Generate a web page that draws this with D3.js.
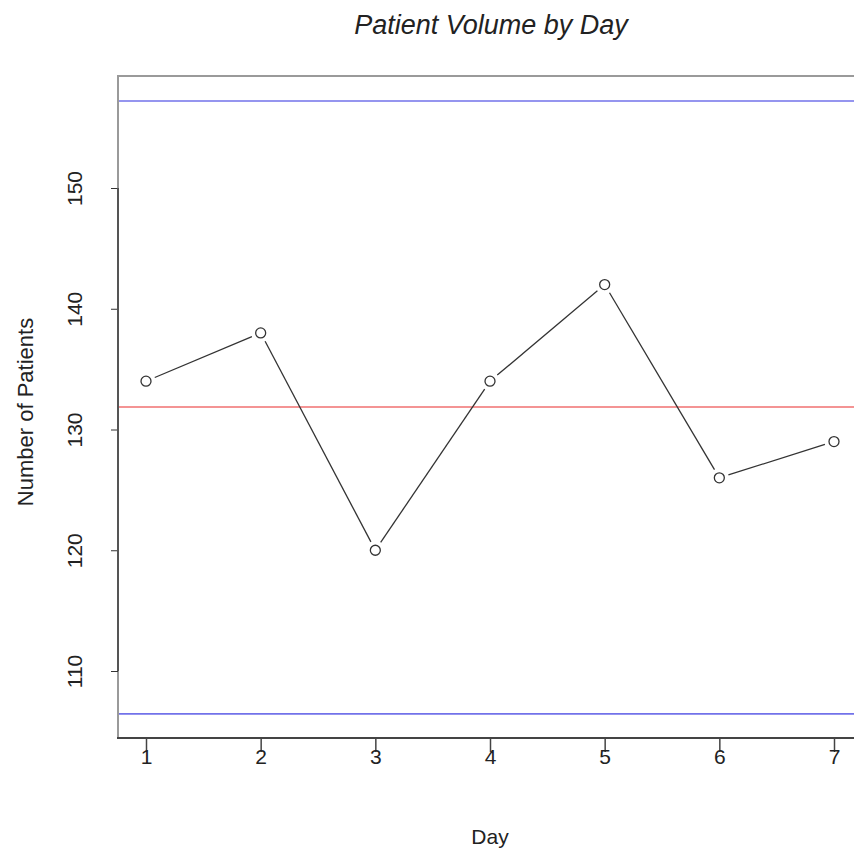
<!DOCTYPE html>
<html>
<head>
<meta charset="utf-8">
<script src="https://cdn.jsdelivr.net/npm/d3@7"></script>
<style>
  body { margin: 0; background: #fff; }
  svg { display: block; font-family: "Liberation Sans", Arial, sans-serif; }
</style>
</head>
<body>
<div id="chart"></div>
<script>
// data
var days = [1, 2, 3, 4, 5, 6, 7];
var patients = [134, 138, 120, 134, 142, 126, 129];
var centerLine = 131.86;
var upperLimit = 157.2;
var lowerLimit = 106.45;
var yTicks = [110, 120, 130, 140, 150];

var width = 854, height = 856;
var plot = {left: 118, right: 870, top: 76, bottom: 738};

var svg = d3.select("#chart").append("svg")
    .attr("width", width)
    .attr("height", height);

var x = d3.scaleLinear()
    .domain([1, 7])
    .range([146, 834]);
var y = d3.scaleLinear()
    .domain([110, 150])
    .range([671, 188]);

// frame (gray) around the plot region
svg.append("path")
    .attr("d", "M" + plot.right + "," + plot.top + "H" + plot.left + "V" + plot.bottom)
    .attr("fill", "none")
    .attr("stroke", "#9a9a9a")
    .attr("stroke-width", 2);

// limits + mean
var hlines = [
  {v: upperLimit, c: "#7272ea"},
  {v: lowerLimit, c: "#7272ea"},
  {v: centerLine, c: "#f07070"}
];
svg.append("g").selectAll("line")
    .data(hlines)
    .enter().append("line")
    .attr("x1", plot.left + 1)
    .attr("x2", width)
    .attr("y1", d => y(d.v))
    .attr("y2", d => y(d.v))
    .attr("stroke", d => d.c)
    .attr("stroke-width", 1.6);

// y axis (R style: line only between first and last tick)
var yAxis = d3.axisLeft(y).tickValues(yTicks).tickSize(7);
var gy = svg.append("g")
    .attr("transform", "translate(" + plot.left + ",0)")
    .call(yAxis);
gy.select(".domain").remove();
gy.append("line")
    .attr("y1", y(150)).attr("y2", y(110))
    .attr("stroke", "#555").attr("stroke-width", 2);
gy.selectAll(".tick line").attr("stroke", "#333");
gy.selectAll(".tick text")
    .attr("font-size", 21)
    .attr("fill", "#222")
    .attr("transform", "rotate(-90,-43,0)")
    .attr("x", -43)
    .attr("dy", "0.35em")
    .attr("text-anchor", "middle");

// x axis
var xAxis = d3.axisBottom(x).tickValues(days).tickSize(14).tickFormat(d3.format("d"));
var gx = svg.append("g")
    .attr("transform", "translate(0," + plot.bottom + ")")
    .call(xAxis);
gx.select(".domain").remove();
gx.append("line")
    .attr("x1", plot.left - 1).attr("x2", width)
    .attr("stroke", "#444").attr("stroke-width", 2);
gx.selectAll(".tick line").attr("stroke", "#444").attr("stroke-width", 1.5);
gx.selectAll(".tick text")
    .attr("font-size", 21)
    .attr("fill", "#222")
    .attr("y", 26)
    .attr("dy", 0);

// line segments with gaps around the points (type = "b")
var pts = days.map((d, i) => ({x: x(d), y: y(patients[i])}));
var gap = 9.5;
var segs = d3.pairs(pts).map(function(p) {
  var dx = p[1].x - p[0].x, dy = p[1].y - p[0].y;
  var len = Math.sqrt(dx * dx + dy * dy);
  var ux = dx / len, uy = dy / len;
  return {x1: p[0].x + ux * gap, y1: p[0].y + uy * gap, x2: p[1].x - ux * gap, y2: p[1].y - uy * gap};
});
svg.append("g").selectAll("line")
    .data(segs)
    .enter().append("line")
    .attr("x1", d => d.x1).attr("y1", d => d.y1)
    .attr("x2", d => d.x2).attr("y2", d => d.y2)
    .attr("stroke", "#333")
    .attr("stroke-width", 1.3);

svg.append("g").selectAll("circle")
    .data(pts)
    .enter().append("circle")
    .attr("cx", d => d.x)
    .attr("cy", d => d.y)
    .attr("r", 5)
    .attr("fill", "#fff")
    .attr("stroke", "#333")
    .attr("stroke-width", 1.3);

// titles
svg.append("text")
    .attr("x", 491)
    .attr("y", 34)
    .attr("text-anchor", "middle")
    .attr("font-size", 27)
    .attr("font-style", "italic")
    .attr("fill", "#222")
    .text("Patient Volume by Day");

svg.append("text")
    .attr("x", 490)
    .attr("y", 844)
    .attr("text-anchor", "middle")
    .attr("font-size", 21)
    .attr("fill", "#222")
    .text("Day");

svg.append("text")
    .attr("transform", "translate(33,412) rotate(-90)")
    .attr("text-anchor", "middle")
    .attr("font-size", 22)
    .attr("fill", "#222")
    .text("Number of Patients");
</script>
</body>
</html>
